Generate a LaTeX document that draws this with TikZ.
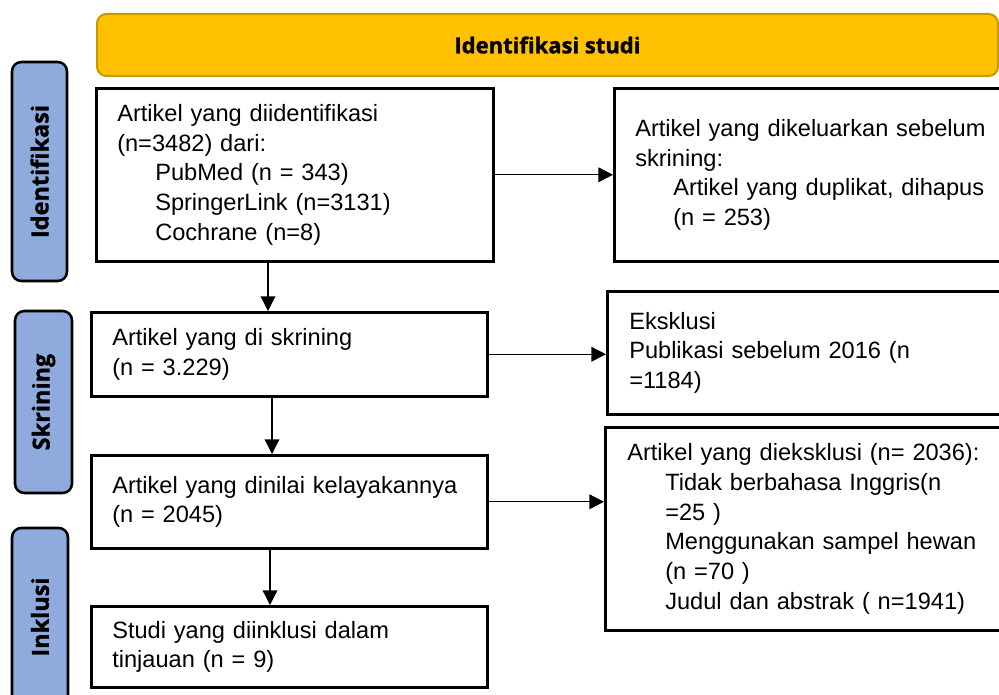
\documentclass[tikz,border=0pt]{standalone}
\usepackage{fontspec}
\setmainfont{Liberation Sans}
\newfontfamily\lblfont{Open Sans}[BoldFeatures={FakeBold=1.2}]
\usetikzlibrary{arrows.meta,calc}
\definecolor{bannerfill}{HTML}{FFC000}
\definecolor{bannerdraw}{HTML}{C49A00}
\definecolor{sidefill}{HTML}{8FAADC}
\newcommand{\ind}{\hspace*{28.5pt}}
\begin{document}
\begin{tikzpicture}[x=0.75pt,y=-0.75pt,
  pbox/.style={draw=black, line width=1.9pt, anchor=north west, inner xsep=15.75pt, inner ysep=0pt, align=left, font=\fontsize{17.7}{22.3}\selectfont},
  side/.style={draw=black, fill=sidefill, line width=1.9pt, rounded corners=7pt, rotate=90, inner sep=0pt, font=\lblfont\bfseries\fontsize{17.6}{20}\selectfont},
  arr/.style={line width=1pt, -{Triangle[length=11pt,width=11pt]}}]
\useasboundingbox (0,0) rectangle (999,695);
\clip (0,0) rectangle (999,695);
\fill[white] (0,0) rectangle (999,695);

% banner
\node[draw=bannerdraw, fill=bannerfill, line width=1.5pt, rounded corners=7pt,
      minimum width=675.75pt, minimum height=46.5pt, inner sep=0pt,
      font=\lblfont\bfseries\fontsize{16.5}{20}\selectfont] (banner) at (547.5,45) {Identifikasi studi};

% side labels
\node[side, minimum width=164.25pt, minimum height=41.25pt] (sid) at (39.5,171.5) {Identifikasi};
\node[side, minimum width=136.5pt, minimum height=42.75pt] (ssk) at (43.5,402) {Skrining};
\node[side, minimum width=133.5pt, minimum height=42pt] (sin) at (40,617) {Inklusi};

% main boxes
\node[pbox, minimum width=297.75pt, minimum height=129.75pt, text width=266.25pt] (b1) at (95,87)
  {Artikel yang diidentifikasi\\(n=3482) dari:\\\ind PubMed (n = 343)\\\ind SpringerLink (n=3131)\\\ind Cochrane (n=8)};
\node[pbox, minimum width=301.5pt, minimum height=129.75pt, text width=270pt] (b2) at (613,87)
  {Artikel yang dikeluarkan sebelum\\skrining:\\\ind Artikel yang duplikat, dihapus\\\ind (n = 253)};
\node[pbox, minimum width=297pt, minimum height=63pt, text width=265.5pt] (b3) at (90,311)
  {Artikel yang di skrining\\(n = 3.229)};
\node[pbox, minimum width=306.75pt, minimum height=92.25pt, text width=274.5pt, inner xsep=16.5pt] (b4) at (606,290)
  {Eksklusi\\Publikasi sebelum 2016 (n\\=1184)};
\node[pbox, minimum width=297pt, minimum height=69.75pt, text width=265.5pt] (b5) at (90,454)
  {Artikel yang dinilai kelayakannya\\(n = 2045)};
\node[pbox, minimum width=308.25pt, minimum height=152.25pt, text width=275.25pt, inner xsep=16.5pt] (b6) at (604,426)
  {Artikel yang dieksklusi (n= 2036):\\\ind Tidak berbahasa Inggris(n\\\ind =25 )\\\ind Menggunakan sampel hewan\\\ind (n =70 )\\\ind Judul dan abstrak ( n=1941)};
\node[pbox, minimum width=297pt, minimum height=60.75pt, text width=265.5pt] (b7) at (90,605)
  {Studi yang diinklusi dalam\\tinjauan (n = 9)};

% connectors
\coordinate (v1) at (268,0);
\coordinate (v2) at (272,0);
\coordinate (v3) at (270,0);
\draw[arr] (b1.south -| v1) -- (b3.north -| v1);
\draw[arr] (b3.south -| v2) -- (b5.north -| v2);
\draw[arr] (b5.south -| v3) -- (b7.north -| v3);
\draw[arr] (b1.east) -- (b2.west |- b1.east);
\draw[arr] (b3.east) -- (b4.west |- b3.east);
\draw[arr] (b5.east) -- (b6.west |- b5.east);
\end{tikzpicture}
\end{document}
